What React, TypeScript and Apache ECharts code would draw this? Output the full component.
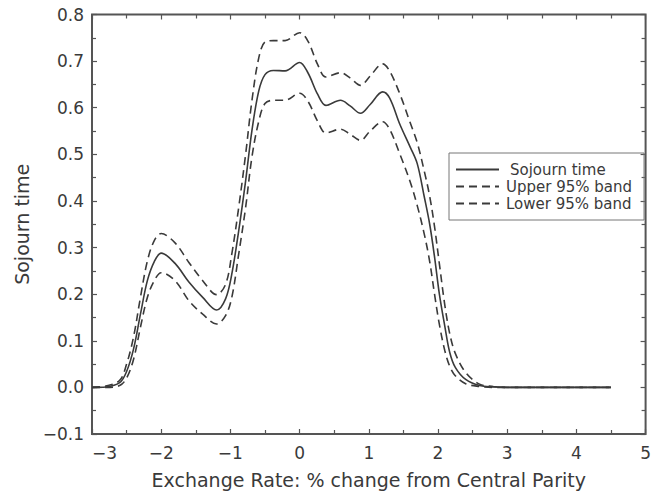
import React, { useEffect, useRef } from "react";
import * as echarts from "echarts";

const xValues = [
  -3, -2.8, -2.6, -2.5, -2.4, -2.3, -2.2, -2.1, -2.0, -1.8, -1.6, -1.4, -1.2, -1.07, -0.98, -0.88,
  -0.78, -0.69, -0.59, -0.5, -0.38, -0.21, 0, 0.12, 0.26, 0.38, 0.59, 0.73, 0.88, 1.02, 1.2, 1.3,
  1.45, 1.6, 1.7, 1.8, 1.88, 1.95, 2.02, 2.1, 2.17, 2.25, 2.4, 2.6, 2.8, 3.0, 3.5, 4.0, 4.5,
];

const sojourn = [
  0, 0.001, 0.01, 0.034, 0.082, 0.157, 0.229, 0.27, 0.288, 0.266, 0.226, 0.193, 0.166, 0.19, 0.243, 0.336,
  0.443, 0.55, 0.636, 0.671, 0.68, 0.679, 0.697, 0.675, 0.629, 0.605, 0.616, 0.604, 0.588, 0.607, 0.634, 0.621,
  0.564, 0.515, 0.48, 0.41, 0.35, 0.28, 0.2, 0.13, 0.075, 0.043, 0.017, 0.004, 0.001, 0, 0, 0, 0,
];

const upper95 = [
  0, 0.003, 0.015, 0.05, 0.108, 0.193, 0.271, 0.315, 0.33, 0.31, 0.268, 0.229, 0.199, 0.221, 0.286, 0.386,
  0.5, 0.614, 0.707, 0.741, 0.744, 0.744, 0.761, 0.743, 0.693, 0.666, 0.675, 0.664, 0.648, 0.668, 0.694, 0.679,
  0.629, 0.567, 0.525, 0.465, 0.41, 0.345, 0.265, 0.175, 0.115, 0.073, 0.032, 0.007, 0.002, 0, 0, 0, 0,
];

const lower95 = [
  0, 0, 0.004, 0.02, 0.06, 0.129, 0.193, 0.229, 0.246, 0.229, 0.186, 0.157, 0.136, 0.154, 0.193, 0.286,
  0.386, 0.493, 0.571, 0.609, 0.616, 0.616, 0.631, 0.614, 0.571, 0.546, 0.554, 0.543, 0.53, 0.55, 0.57, 0.554,
  0.5, 0.44, 0.39, 0.33, 0.27, 0.2, 0.135, 0.078, 0.045, 0.025, 0.008, 0.002, 0, 0, 0, 0, 0,
];

const seriesNames = ["Sojourn time", "Upper 95% band", "Lower 95% band"];
const xTitle = "Exchange Rate: % change from Central Parity";
const yTitle = "Sojourn time";

const FONT = "DejaVu Sans";
const INK = "#3a3a3a";
const FRAME = "#555555";

const fmtMinus = (s: string) => s.replace("-", "\u2212");

export default function App() {
  const ref = useRef<HTMLDivElement>(null);
  useEffect(() => {
    if (!ref.current) return;
    const chart = echarts.init(ref.current, undefined, { renderer: "svg" });
    const pair = (ys: number[]) => xValues.map((x, i) => [x, ys[i]]);
    const tickCommon = {
      axisLine: { show: false, onZero: false },
      axisTick: { show: true, inside: true, length: 5, lineStyle: { color: FRAME, width: 1.2 } },
      minorTick: { show: true, splitNumber: 2, length: 4, lineStyle: { color: FRAME, width: 1.2 } },
      splitLine: { show: false },
      minorSplitLine: { show: false },
    };
    chart.setOption({
      animation: false,
      backgroundColor: "#ffffff",
      grid: {
        left: 92,
        top: 14.5,
        right: 2,
        bottom: 60,
        show: true,
        borderColor: FRAME,
        borderWidth: 2,
      },
      legend: {
        orient: "vertical",
        left: 449,
        top: 153,
        padding: [8, 12, 8, 6],
        itemWidth: 43,
        itemHeight: 10,
        itemGap: 0,
        borderColor: "#777777",
        borderWidth: 1,
        itemStyle: { opacity: 0 },
        data: [
          { name: seriesNames[0], textStyle: { padding: [0, 0, 0, 6] } },
          { name: seriesNames[1], textStyle: { padding: [0, 0, 0, 2] } },
          { name: seriesNames[2], textStyle: { padding: [0, 0, 0, 2] } },
        ],
        textStyle: { fontFamily: FONT, fontSize: 15, color: INK, lineHeight: 17 },
      },
      xAxis: [
        {
          type: "value",
          min: -3,
          max: 5,
          interval: 1,
          position: "bottom",
          ...tickCommon,
          axisLabel: {
            fontFamily: FONT,
            fontSize: 17,
            color: INK,
            margin: 10,
            alignMinLabel: "left",
            formatter: (v: number) => fmtMinus(String(v)),
          },
          name: xTitle,
          nameLocation: "middle",
          nameGap: 36,
          nameTextStyle: { fontFamily: FONT, fontSize: 19, color: INK },
        },
        {
          type: "value",
          min: -3,
          max: 5,
          interval: 1,
          position: "top",
          ...tickCommon,
          axisLabel: { show: false },
        },
      ],
      yAxis: [
        {
          type: "value",
          min: -0.1,
          max: 0.8,
          interval: 0.1,
          position: "left",
          ...tickCommon,
          axisLabel: {
            fontFamily: FONT,
            fontSize: 17,
            color: INK,
            margin: 8,
            formatter: (v: number) => fmtMinus(v.toFixed(1)),
          },
          name: yTitle,
          nameLocation: "middle",
          nameGap: 60,
          nameTextStyle: { fontFamily: FONT, fontSize: 19, color: INK },
        },
        {
          type: "value",
          min: -0.1,
          max: 0.8,
          interval: 0.1,
          position: "right",
          ...tickCommon,
          axisLabel: { show: false },
        },
      ],
      series: [
        {
          name: seriesNames[0],
          type: "line",
          data: pair(sojourn),
          smooth: 0.35,
          symbol: "none",
          lineStyle: { color: INK, width: 1.6, type: "solid" },
          itemStyle: { color: INK },
        },
        {
          name: seriesNames[1],
          type: "line",
          data: pair(upper95),
          smooth: 0.35,
          symbol: "none",
          lineStyle: { color: INK, width: 1.6, type: [8, 5] },
          itemStyle: { color: INK },
        },
        {
          name: seriesNames[2],
          type: "line",
          data: pair(lower95),
          smooth: 0.35,
          symbol: "none",
          lineStyle: { color: INK, width: 1.6, type: [8, 5] },
          itemStyle: { color: INK },
        },
      ],
    });
    return () => chart.dispose();
  }, []);
  return (
    <div
      ref={ref}
      style={{ position: "absolute", left: 0, top: 0, width: 654, height: 494, background: "#fff" }}
    />
  );
}
